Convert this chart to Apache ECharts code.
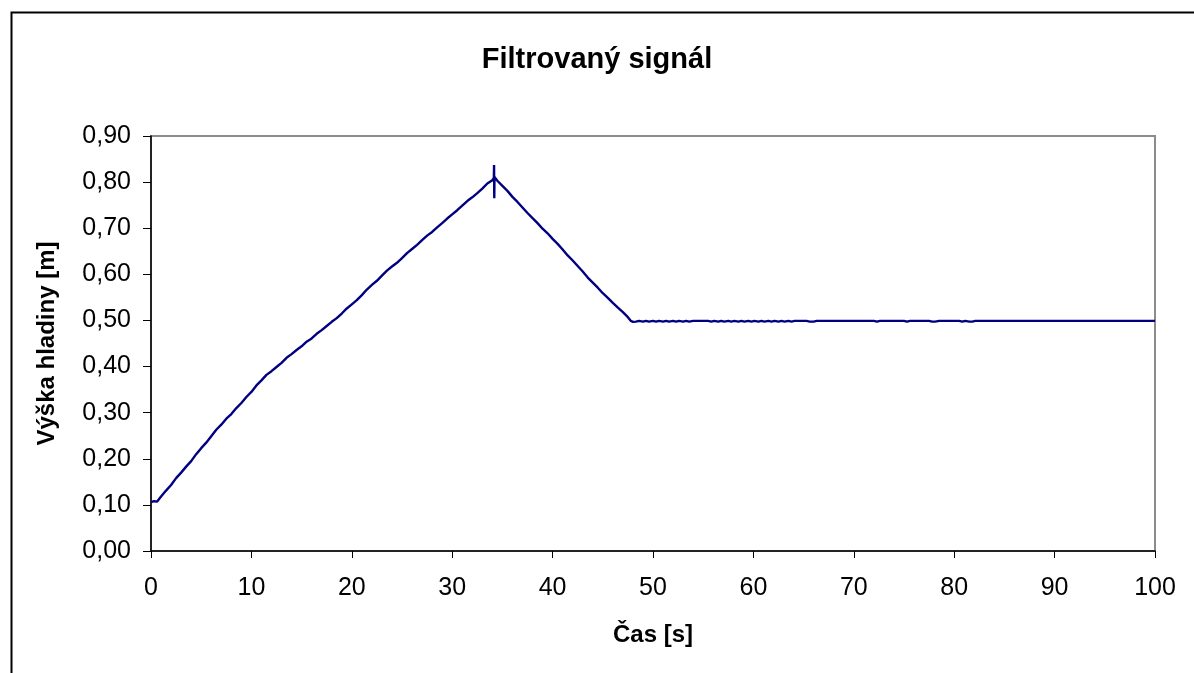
<!DOCTYPE html>
<html>
<head>
<meta charset="utf-8">
<script src="https://cdn.jsdelivr.net/npm/echarts@6/dist/echarts.min.js"></script>
<style>
html,body{margin:0;padding:0;background:#fff;}
#chart{width:1194px;height:673px;}
</style>
</head>
<body>
<div id="chart"></div>
<script>
var chartTitle = 'Filtrovaný signál';
var xAxisTitle = 'Čas [s]';
var yAxisTitle = 'Výška hladiny [m]';
var xTicks = [0, 10, 20, 30, 40, 50, 60, 70, 80, 90, 100];
var yTicks = [0, 0.1, 0.2, 0.3, 0.4, 0.5, 0.6, 0.7, 0.8, 0.9];

var timeS = [
  0, 0.3, 0.6, 1, 1.5, 2, 2.5, 3, 3.5, 4, 4.5, 5, 5.5, 6, 6.5, 7, 7.5, 8, 8.5, 9, 9.5,
  10, 10.5, 11, 11.5, 12, 12.5, 13, 13.5, 14, 14.5, 15, 15.5, 16, 16.5, 17, 17.5, 18, 18.5, 19, 19.5,
  20, 20.5, 21, 21.5, 22, 22.5, 23, 23.5, 24, 24.5, 25, 25.5, 26, 26.5, 27, 27.5, 28, 28.5, 29, 29.5,
  30, 30.5, 31, 31.5, 32, 32.5, 33, 33.5, 34, 34.15, 34.17, 34.19, 34.21, 34.5,
  35, 35.5, 36, 36.5, 37, 37.5, 38, 38.5, 39, 39.5, 40, 40.5, 41, 41.5, 42, 42.5, 43, 43.5, 44, 44.5,
  45, 45.5, 46, 46.5, 47, 47.5, 47.8,
  48, 48.3, 48.6, 49, 49.3, 49.6, 50, 50.3, 50.6, 51, 51.3, 51.6, 52, 52.3, 52.6, 53, 53.3, 53.6, 54, 54.3,
  55.5, 55.8, 56.1, 56.5, 56.8, 57.1, 57.5, 57.8, 58.1, 58.5, 58.8, 59.1, 59.5, 59.8, 60.1, 60.5, 60.8, 61.1,
  61.5, 61.8, 62.1, 62.5, 62.8, 63.1, 63.5, 63.8, 64.1, 64.5,
  65.3, 65.6, 66, 66.3,
  72, 72.3, 72.6, 75, 75.3, 75.6, 77.5, 77.8, 78.1, 78.5, 80.5, 80.8, 81.1, 81.5, 81.8, 82.1,
  100
];
var levelM = [
  0.106, 0.108, 0.107, 0.118, 0.131, 0.143, 0.158, 0.170, 0.183, 0.195, 0.210, 0.223, 0.235, 0.249, 0.263, 0.274, 0.287, 0.297, 0.310, 0.321, 0.334,
  0.345, 0.359, 0.370, 0.382, 0.390, 0.399, 0.408, 0.419, 0.427, 0.436, 0.444, 0.454, 0.461, 0.471, 0.479, 0.488, 0.497, 0.505, 0.515, 0.526,
  0.535, 0.544, 0.555, 0.567, 0.577, 0.586, 0.597, 0.608, 0.617, 0.625, 0.635, 0.646, 0.655, 0.664, 0.674, 0.684, 0.692, 0.702, 0.711, 0.721,
  0.730, 0.739, 0.749, 0.759, 0.767, 0.776, 0.786, 0.797, 0.804, 0.809, 0.837, 0.765, 0.811, 0.803,
  0.792, 0.781, 0.768, 0.757, 0.745, 0.733, 0.722, 0.711, 0.699, 0.689, 0.677, 0.666, 0.654, 0.641, 0.630, 0.618, 0.606, 0.593, 0.582, 0.571,
  0.559, 0.549, 0.538, 0.528, 0.518, 0.507, 0.499,
  0.497, 0.4975, 0.499, 0.4975, 0.499, 0.4975, 0.499, 0.4975, 0.499, 0.4975, 0.499, 0.4975, 0.499, 0.4975, 0.499, 0.4975, 0.499, 0.4975, 0.499, 0.499,
  0.499, 0.4975, 0.499, 0.4975, 0.499, 0.4975, 0.499, 0.4975, 0.499, 0.4975, 0.499, 0.4975, 0.499, 0.4975, 0.499, 0.4975, 0.499, 0.4975,
  0.499, 0.4975, 0.499, 0.4975, 0.499, 0.4975, 0.499, 0.4975, 0.499, 0.499,
  0.499, 0.4975, 0.4975, 0.499,
  0.499, 0.4975, 0.499, 0.499, 0.4975, 0.499, 0.499, 0.4975, 0.4975, 0.499, 0.499, 0.4975, 0.499, 0.4975, 0.4975, 0.499,
  0.499
];

var seriesData = timeS.map(function (t, i) { return [t, levelM[i]]; });
var FONT = '"Liberation Sans", Arial, sans-serif';

var chart = echarts.init(document.getElementById('chart'), null, { renderer: 'canvas' });
chart.setOption({
  animation: false,
  backgroundColor: '#ffffff',
  title: {
    text: chartTitle,
    left: 'center',
    top: 40,
    textStyle: { fontFamily: FONT, fontSize: 29, fontWeight: 'bold', color: '#000' }
  },
  graphic: [{
    type: 'rect',
    left: 9, top: 10,
    shape: { width: 1200, height: 700 },
    style: { fill: 'none', stroke: '#000', lineWidth: 2 },
    silent: true
  }],
  grid: {
    left: 151, right: 39, top: 136, bottom: 122,
    show: true, borderColor: '#8c8c8c', borderWidth: 2, backgroundColor: 'transparent'
  },
  xAxis: {
    type: 'value',
    min: xTicks[0], max: xTicks[xTicks.length - 1], interval: 10,
    name: xAxisTitle,
    nameLocation: 'middle',
    nameGap: 72,
    nameTextStyle: { fontFamily: FONT, fontSize: 24, fontWeight: 'bold', color: '#000' },
    axisLine: { show: true, onZero: false, lineStyle: { color: '#000', width: 1.5 } },
    axisTick: { show: true, inside: false, length: 7, lineStyle: { color: '#000', width: 1 } },
    axisLabel: { margin: 25, fontFamily: FONT, fontSize: 25, color: '#000' },
    splitLine: { show: false }
  },
  yAxis: {
    type: 'value',
    min: yTicks[0], max: yTicks[yTicks.length - 1], interval: 0.1,
    name: yAxisTitle,
    nameLocation: 'middle',
    nameGap: 92,
    nameRotate: 90,
    nameTextStyle: { fontFamily: FONT, fontSize: 24, fontWeight: 'bold', color: '#000' },
    axisLine: { show: true, onZero: false, lineStyle: { color: '#000', width: 1.5 } },
    axisTick: { show: true, inside: false, length: 8, lineStyle: { color: '#000', width: 1 } },
    axisLabel: {
      margin: 20, fontFamily: FONT, fontSize: 25, color: '#000',
      formatter: function (v) { return v.toFixed(2).replace('.', ','); }
    },
    splitLine: { show: false }
  },
  series: [{
    type: 'line',
    data: seriesData,
    showSymbol: false,
    symbol: 'none',
    smooth: false,
    lineStyle: { color: '#000080', width: 2.4 },
    itemStyle: { color: '#000080' }
  }]
});
</script>
</body>
</html>
